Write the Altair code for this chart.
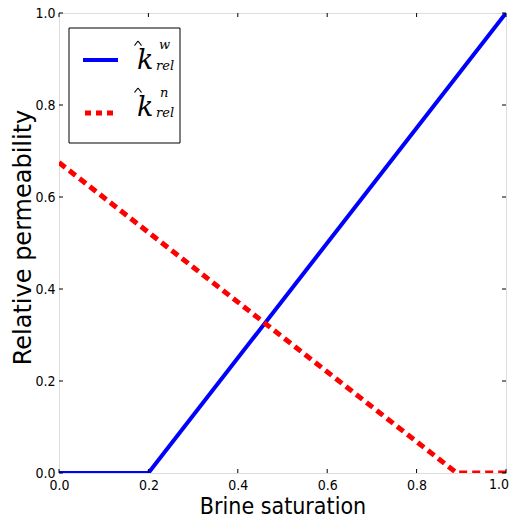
import altair as alt
import pandas as pd

# data
sat_w = [0.0, 0.2, 1.0]
krel_w = [0.0, 0.0, 1.0]
sat_n = [0.0, 0.89, 1.0]
krel_n = [0.675, 0.0, 0.0]
ticks = [0.0, 0.2, 0.4, 0.6, 0.8, 1.0]

W, H = 447, 460

dw = pd.DataFrame({"s": sat_w, "k": krel_w})
dn = pd.DataFrame({"s": sat_n, "k": krel_n})
dt = pd.DataFrame({"t": ticks})
dlast = pd.DataFrame({"t": [ticks[-1]], "lab": [f"{ticks[-1]:.1f}"]})

xs = alt.Scale(domain=[0, 1], nice=False, zero=False)
ys = alt.Scale(domain=[0, 1], nice=False, zero=False)

xaxis = alt.Axis(values=ticks, format=".1f", ticks=False, domain=False, grid=False,
                 labelExpr="datum.value == 1 ? '' : datum.label",
                 labelFont="DejaVu Sans Condensed", labelFontSize=14, labelColor="black",
                 labelPadding=5,
                 title="Brine saturation", titleFont="DejaVu Sans Condensed",
                 titleFontSize=23, titleFontWeight="normal", titleColor="black", titlePadding=3,
                 labelFlush=False)
yaxis = alt.Axis(values=ticks, format=".1f", ticks=False, domain=False, grid=False,
                 labelFont="DejaVu Sans Condensed", labelFontSize=14, labelColor="black",
                 labelPadding=4, title="Relative permeability", titleFont="DejaVu Sans",
                 titleFontSize=24, titleFontWeight="normal", titleColor="black",
                 titleX=-24, titleY=224, titleAngle=270, titleBaseline="bottom", titleAlign="center",
                 labelFlush=False)

wet = alt.Chart(dw).mark_line(color="#0000ff", strokeWidth=4, clip=True).encode(
    x=alt.X("s:Q", scale=xs, axis=xaxis), y=alt.Y("k:Q", scale=ys, axis=yaxis))
non = alt.Chart(dn).mark_line(color="#ff0000", strokeWidth=5, strokeDash=[8, 5], clip=True).encode(
    x=alt.X("s:Q", scale=xs), y=alt.Y("k:Q", scale=ys))

last_label = alt.Chart(dlast).mark_text(font="DejaVu Sans Condensed", fontSize=14, color="black",
                                        align="right", baseline="top", dx=3).encode(
    x=alt.X("t:Q", scale=xs), y=alt.value(H + 5), text="lab:N")

tick_style = dict(color="black", strokeWidth=1)
tb = alt.Chart(dt).mark_rule(**tick_style).encode(x=alt.X("t:Q", scale=xs), y=alt.value(H), y2=alt.value(H - 4))
tt = alt.Chart(dt).mark_rule(**tick_style).encode(x=alt.X("t:Q", scale=xs), y=alt.value(0), y2=alt.value(4))
tl = alt.Chart(dt).mark_rule(**tick_style).encode(y=alt.Y("t:Q", scale=ys), x=alt.value(0), x2=alt.value(4))
tr = alt.Chart(dt).mark_rule(**tick_style).encode(y=alt.Y("t:Q", scale=ys), x=alt.value(W), x2=alt.value(W - 4))

# legend (drawn manually)
one = pd.DataFrame({"a": [0]})
box = alt.Chart(one).mark_rect(fill="white", stroke="black", strokeWidth=1).encode(
    x=alt.value(10), x2=alt.value(121), y=alt.value(15), y2=alt.value(130))
lw = alt.Chart(one).mark_rule(color="#0000ff", strokeWidth=4).encode(
    x=alt.value(24), x2=alt.value(59), y=alt.value(47))
ln = alt.Chart(one).mark_rule(color="#ff0000", strokeWidth=5, strokeDash=[6, 5]).encode(
    x=alt.value(26), x2=alt.value(58), y=alt.value(100))

def txt(s, x, y, size):
    return alt.Chart(one).mark_text(text=s, font="DejaVu Serif", fontStyle="italic", fontSize=size,
                                    color="black", align="left", baseline="alphabetic").encode(
        x=alt.value(x), y=alt.value(y))

def hat(cx, top):
    l1 = alt.Chart(one).mark_rule(color="black", strokeWidth=1.2).encode(
        x=alt.value(cx - 3.5), x2=alt.value(cx), y=alt.value(top + 4.5), y2=alt.value(top))
    l2 = alt.Chart(one).mark_rule(color="black", strokeWidth=1.2).encode(
        x=alt.value(cx), x2=alt.value(cx + 3.5), y=alt.value(top), y2=alt.value(top + 4.5))
    return [l1, l2]

legend = [box, lw, ln,
          txt("k", 78, 56, 27), *hat(79, 28), txt("w", 100, 36, 13), txt("rel", 97, 57, 13),
          txt("k", 78, 103, 27), *hat(79, 75), txt("n", 101, 84, 13), txt("rel", 97, 104, 13)]

chart = alt.layer(wet, non, last_label, tb, tt, tl, tr, *legend).properties(
    width=W, height=H,
    autosize=alt.AutoSizeParams(type="none"),
    padding={"left": 51, "top": 5, "right": 3, "bottom": 46},
).configure_view(stroke="black", strokeWidth=1).configure(background="white")

chart.save("out.html", embed_options={"renderer": "svg", "actions": False})
